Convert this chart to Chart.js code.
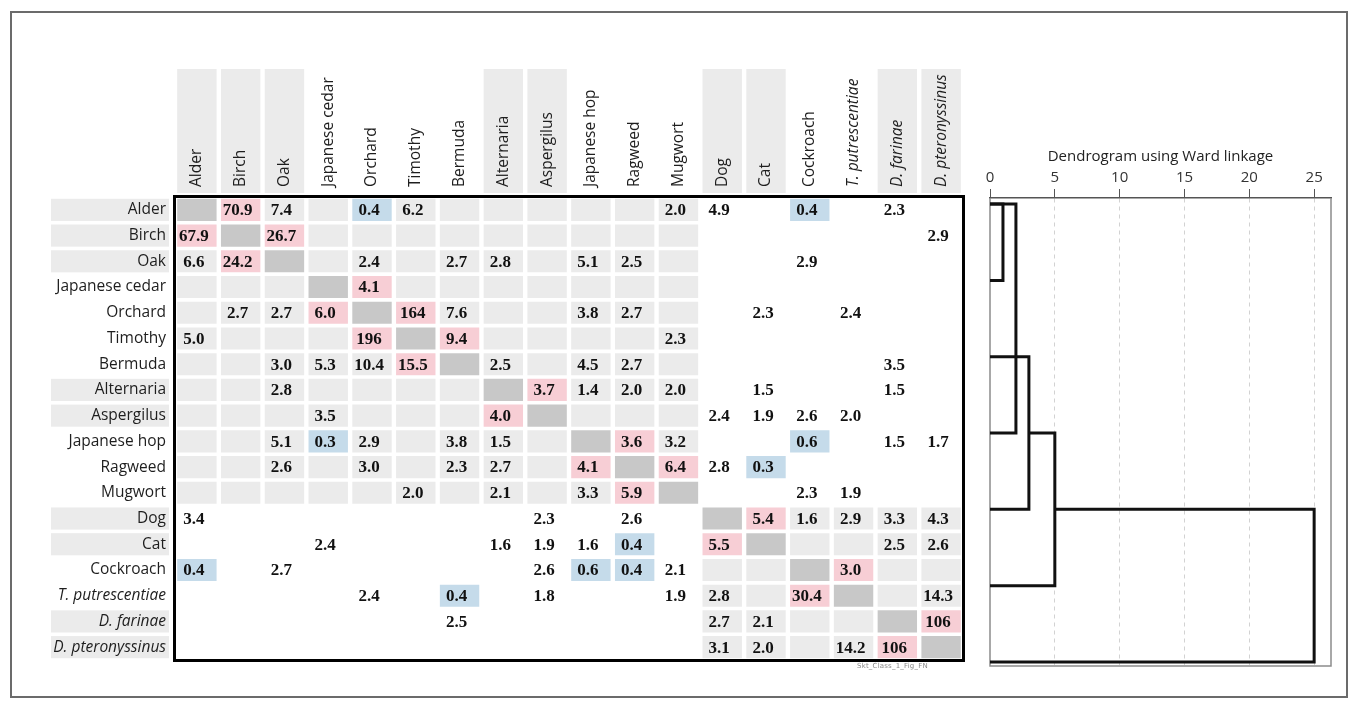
<!DOCTYPE html>
<html>
<head>
<meta charset="utf-8">
<script src="https://cdn.jsdelivr.net/npm/chart.js@4.4.1/dist/chart.umd.min.js"></script>
<style>
  html, body { margin: 0; padding: 0; background: #fff; }
  body { width: 1357px; height: 708px; position: relative; overflow: hidden; }
  #frame { position: absolute; left: 10px; top: 11px; width: 1334px; height: 683px; border: 2px solid #6b6b6b; }
  #matrixWrap { position: absolute; left: 0; top: 0; width: 980px; height: 708px; }
  #dendroWrap { position: absolute; left: 960px; top: 120px; width: 397px; height: 588px; }
  #fileTag { position: absolute; left: 857px; top: 662px; font: 7px "DejaVu Sans", sans-serif; color: #8a8a8a; letter-spacing: 0.2px; }
</style>
</head>
<body>
<div id="frame"></div>
<div id="matrixWrap"><canvas id="matrix"></canvas></div>
<div id="dendroWrap"><canvas id="dendro"></canvas></div>
<div id="fileTag">Skt_Class_1_Fig_FN</div>
<script>
// ---- allergens (rows and columns share the same order) ----
const allergens = ['Alder', 'Birch', 'Oak', 'Japanese cedar', 'Orchard', 'Timothy', 'Bermuda',
  'Alternaria', 'Aspergilus', 'Japanese hop', 'Ragweed', 'Mugwort', 'Dog', 'Cat', 'Cockroach',
  'T. putrescentiae', 'D. farinae', 'D. pteronyssinus'];
const italicNames = ['T. putrescentiae', 'D. farinae', 'D. pteronyssinus'];
// label groups: even groups get a shaded label box
const labelGroup = [0, 0, 0, 1, 1, 1, 1, 2, 2, 3, 3, 3, 4, 4, 5, 5, 6, 6];
// matrix blocks: pollen & mold vs animal & mite
const shadeBlock = [0, 0, 0, 0, 0, 0, 0, 0, 0, 0, 0, 0, 1, 1, 1, 1, 1, 1];

// ---- values per row (null = empty cell) ----
const _ = null;
const alder          = [_, 70.9, 7.4, _, 0.4, 6.2, _, _, _, _, _, 2.0, 4.9, _, 0.4, _, 2.3, _];
const birch          = [67.9, _, 26.7, _, _, _, _, _, _, _, _, _, _, _, _, _, _, 2.9];
const oak            = [6.6, 24.2, _, _, 2.4, _, 2.7, 2.8, _, 5.1, 2.5, _, _, _, 2.9, _, _, _];
const japaneseCedar  = [_, _, _, _, 4.1, _, _, _, _, _, _, _, _, _, _, _, _, _];
const orchard        = [_, 2.7, 2.7, 6.0, _, 164, 7.6, _, _, 3.8, 2.7, _, _, 2.3, _, 2.4, _, _];
const timothy        = [5.0, _, _, _, 196, _, 9.4, _, _, _, _, 2.3, _, _, _, _, _, _];
const bermuda        = [_, _, 3.0, 5.3, 10.4, 15.5, _, 2.5, _, 4.5, 2.7, _, _, _, _, _, 3.5, _];
const alternaria     = [_, _, 2.8, _, _, _, _, _, 3.7, 1.4, 2.0, 2.0, _, 1.5, _, _, 1.5, _];
const aspergilus     = [_, _, _, 3.5, _, _, _, 4.0, _, _, _, _, 2.4, 1.9, 2.6, 2.0, _, _];
const japaneseHop    = [_, _, 5.1, 0.3, 2.9, _, 3.8, 1.5, _, _, 3.6, 3.2, _, _, 0.6, _, 1.5, 1.7];
const ragweed        = [_, _, 2.6, _, 3.0, _, 2.3, 2.7, _, 4.1, _, 6.4, 2.8, 0.3, _, _, _, _];
const mugwort        = [_, _, _, _, _, 2.0, _, 2.1, _, 3.3, 5.9, _, _, _, 2.3, 1.9, _, _];
const dog            = [3.4, _, _, _, _, _, _, _, 2.3, _, 2.6, _, _, 5.4, 1.6, 2.9, 3.3, 4.3];
const cat            = [_, _, _, 2.4, _, _, _, 1.6, 1.9, 1.6, 0.4, _, 5.5, _, _, _, 2.5, 2.6];
const cockroach      = [0.4, _, 2.7, _, _, _, _, _, 2.6, 0.6, 0.4, 2.1, _, _, _, 3.0, _, _];
const tPutrescentiae = [_, _, _, _, 2.4, _, 0.4, _, 1.8, _, _, 1.9, 2.8, _, 30.4, _, _, 14.3];
const dFarinae       = [_, _, _, _, _, _, 2.5, _, _, _, _, _, 2.7, 2.1, _, _, _, 106];
const dPteronyssinus = [_, _, _, _, _, _, _, _, _, _, _, _, 3.1, 2.0, _, 14.2, 106, _];

// highlighted cells [row, column]
const elevatedPairs = [[0, 1], [1, 0], [1, 2], [2, 1], [3, 4], [4, 3], [4, 5], [5, 4], [5, 6], [6, 5],
  [7, 8], [8, 7], [9, 10], [10, 9], [10, 11], [11, 10], [12, 13], [13, 12], [14, 15], [15, 14],
  [16, 17], [17, 16]];
const reducedPairs = [[0, 4], [0, 14], [9, 3], [9, 14], [10, 13], [13, 10], [14, 0], [14, 9],
  [14, 10], [15, 6]];

// ---- dendrogram (Ward linkage), leaf slots 0..6 top to bottom ----
const dendroTicks = [0, 5, 10, 15, 20, 25];
const mergeHeight = [1, 2, 3, 5, 25];
const mergeUpper = [0, 0, 2, 3, 4];
const mergeLower = [1, 3, 4, 5, 6];
const upperArmFrom = [0, 0, 0, 3, 5];
const lowerArmFrom = [0, 0, 0, 0, 0];

const rows = [alder, birch, oak, japaneseCedar, orchard, timothy, bermuda, alternaria, aspergilus,
  japaneseHop, ragweed, mugwort, dog, cat, cockroach, tPutrescentiae, dFarinae, dPteronyssinus];

const COLORS = {
  block: '#ebebeb', diag: '#c8c8c8', elevated: '#f7ced5', reduced: '#c5dbea',
  labelBox: '#ebebeb', text: '#111', label: '#1e1e1e'
};
const hasPair = (list, r, c) => list.some(p => p[0] === r && p[1] === c);

function cellColor(r, c) {
  if (r === c) return COLORS.diag;
  if (hasPair(elevatedPairs, r, c)) return COLORS.elevated;
  if (hasPair(reducedPairs, r, c)) return COLORS.reduced;
  return shadeBlock[r] === shadeBlock[c] ? COLORS.block : '#ffffff';
}
const fmt = v => (v >= 100 ? String(Math.round(v)) : v.toFixed(1));

const cells = [];
rows.forEach((vals, r) => vals.forEach((v, c) => {
  cells.push({ x: allergens[c], y: [r + 0.07, r + 0.93], v, r, c });
}));

const labelFont = (name) => ({
  family: '"Open Sans", "Noto Sans", sans-serif', size: 15.5,
  style: italicNames.includes(name) ? 'italic' : 'normal'
});

const matrixDecor = {
  id: 'matrixDecor',
  beforeDraw(chart) {
    const { ctx, chartArea, scales } = chart;
    const xs = scales.x, ys = scales.rows;
    const colW = xs.getPixelForValue(1) - xs.getPixelForValue(0);
    const rowH = ys.getPixelForValue(1) - ys.getPixelForValue(0);
    ctx.save();
    ctx.fillStyle = COLORS.labelBox;
    allergens.forEach((name, i) => {
      if (labelGroup[i] % 2) return;
      const cx = xs.getPixelForValue(i);
      ctx.fillRect(cx - colW * 0.45, 69, colW * 0.9, chartArea.top - 4 - 69);
      const cy = ys.getPixelForValue(i);
      ctx.fillRect(51, cy - rowH * 0.43, chartArea.left - 6 - 51, rowH * 0.86);
    });
    ctx.restore();
  },
  afterDatasetsDraw(chart) {
    const { ctx, chartArea } = chart;
    const meta = chart.getDatasetMeta(0);
    ctx.save();
    ctx.fillStyle = COLORS.text;
    ctx.font = 'bold 17px "Liberation Serif", "Times New Roman", serif';
    ctx.textAlign = 'center';
    ctx.textBaseline = 'middle';
    meta.data.forEach((el, i) => {
      const d = cells[i];
      if (d.v === null) return;
      ctx.fillText(fmt(d.v), el.x - 3, (el.y + el.base) / 2 + 1);
    });
    ctx.strokeStyle = '#000';
    ctx.lineWidth = 3;
    ctx.strokeRect(chartArea.left - 0.5, chartArea.top - 0.5,
      chartArea.right - chartArea.left + 1, chartArea.bottom - chartArea.top + 1);
    ctx.restore();
  }
};

new Chart(document.getElementById('matrix'), {
  type: 'bar',
  data: {
    labels: allergens,
    datasets: [{
      data: cells,
      backgroundColor: ctx => (ctx.raw ? cellColor(ctx.raw.r, ctx.raw.c) : '#fff'),
      borderWidth: 0,
      barPercentage: 0.9,
      categoryPercentage: 1.0
    }]
  },
  options: {
    responsive: true,
    maintainAspectRatio: false,
    animation: false,
    events: [],
    layout: { padding: { left: 0, right: 17, top: 0, bottom: 48 } },
    plugins: { legend: { display: false }, tooltip: { enabled: false } },
    scales: {
      x: {
        type: 'category', position: 'top', offset: true,
        grid: { display: false, drawTicks: false }, border: { display: false },
        ticks: {
          autoSkip: false, minRotation: 90, maxRotation: 90, padding: 10, labelOffset: 18.6,
          color: COLORS.label,
          font: ctx => labelFont(allergens[ctx.index])
        },
        afterFit: s => { s.height = 197; }
      },
      y: { type: 'linear', min: 0, max: 18, reverse: true, display: false },
      rows: {
        type: 'category', axis: 'y', position: 'left', labels: allergens, offset: true,
        grid: { display: false, drawTicks: false }, border: { display: false },
        ticks: {
          autoSkip: false, padding: 9, color: COLORS.label,
          font: ctx => labelFont(allergens[ctx.index])
        },
        afterFit: s => { s.width = 175; }
      }
    }
  },
  plugins: [matrixDecor]
});

// ---- dendrogram ----
const dendroFrame = {
  id: 'dendroFrame',
  beforeDatasetsDraw(chart) {
    const { ctx, chartArea: a } = chart;
    ctx.save();
    ctx.strokeStyle = '#8c8c8c';
    ctx.lineWidth = 1.5;
    ctx.beginPath();
    ctx.moveTo(a.left, a.top); ctx.lineTo(a.left, a.bottom + 1);
    ctx.lineTo(a.right, a.bottom + 1); ctx.lineTo(a.right, a.top);
    ctx.stroke();
    ctx.restore();
  }
};

const dendroSets = mergeHeight.map((h, i) => ({
  data: [
    { x: upperArmFrom[i], y: mergeUpper[i] },
    { x: h, y: mergeUpper[i] },
    { x: h, y: mergeLower[i] },
    { x: lowerArmFrom[i], y: mergeLower[i] }
  ],
  showLine: true, borderColor: '#111', borderWidth: 3, pointRadius: 0,
  tension: 0, fill: false, borderJoinStyle: 'miter', clip: 4
}));

new Chart(document.getElementById('dendro'), {
  type: 'scatter',
  data: { datasets: dendroSets },
  options: {
    responsive: true,
    maintainAspectRatio: false,
    animation: false,
    events: [],
    layout: { padding: { left: 30, right: 26, top: 0, bottom: 43 } },
    plugins: { legend: { display: false }, tooltip: { enabled: false } },
    scales: {
      x: {
        type: 'linear', position: 'top', min: 0, max: 26.3,
        afterBuildTicks: s => { s.ticks = dendroTicks.map(v => ({ value: v })); },
        ticks: {
          includeBounds: false, padding: 2, color: '#333',
          font: { family: '"Open Sans", "Noto Sans", sans-serif', size: 15 }
        },
        grid: {
          color: ctx => (ctx.tick && ctx.tick.value === 0 ? 'rgba(0,0,0,0)' : '#d2d2d2'),
          lineWidth: 1, drawTicks: true, tickLength: 9, tickColor: '#555', tickWidth: 1,
          tickBorderDash: []
        },
        border: { display: true, color: '#555', width: 1.5, dash: [4, 4] },
        title: {
          display: true, text: 'Dendrogram using Ward linkage', color: '#222',
          font: { family: '"Open Sans", "Noto Sans", sans-serif', size: 15 },
          padding: { top: 28, bottom: 0 }
        },
        afterFit: s => { s.height = 78; }
      },
      y: { type: 'linear', min: -0.08, max: 6.04, reverse: true, display: false }
    }
  },
  plugins: [dendroFrame]
});
</script>
</body>
</html>
